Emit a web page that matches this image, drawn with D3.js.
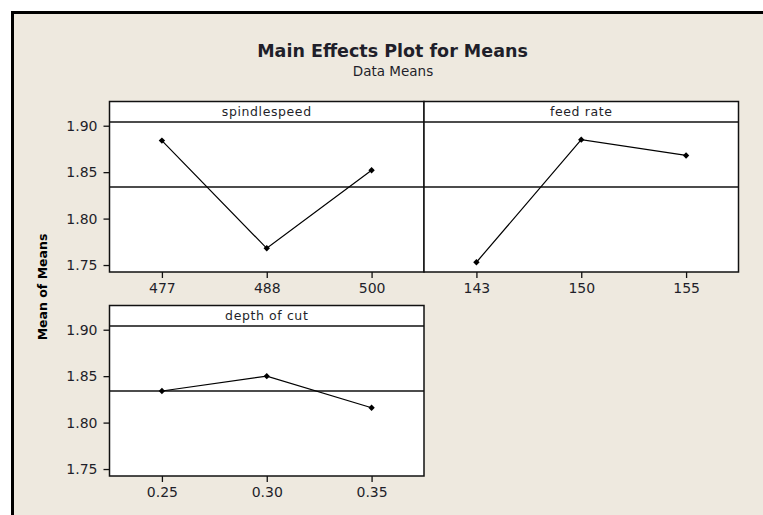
<!DOCTYPE html>
<html>
<head>
<meta charset="utf-8">
<script src="https://cdn.jsdelivr.net/npm/d3@7"></script>
<style>
  html, body { margin: 0; padding: 0; background: #ffffff; }
  svg { display: block; }
</style>
</head>
<body>
<svg id="chart" width="763" height="515"></svg>
<script>
// Factor levels and the response mean at each level
const spindleLevels = ["477", "488", "500"];
const spindleMeans  = [1.884, 1.768, 1.852];
const feedLevels    = ["143", "150", "155"];
const feedMeans     = [1.753, 1.885, 1.868];
const depthLevels   = ["0.25", "0.30", "0.35"];
const depthMeans    = [1.834, 1.850, 1.816];
const grandMean     = 1.834;
const yTickValues   = [1.75, 1.80, 1.85, 1.90];
const factorNames   = ["spindlespeed", "feed rate", "depth of cut"];

const panels = [
  { name: factorNames[0], levels: spindleLevels, means: spindleMeans, col: 0, row: 0 },
  { name: factorNames[1], levels: feedLevels,    means: feedMeans,    col: 1, row: 0 },
  { name: factorNames[2], levels: depthLevels,   means: depthMeans,   col: 0, row: 1 }
];

const svg = d3.select("#chart");
const W = 763, H = 515;
const bg = "#eee9df";
const ink = "#1f1f2a";
const font = "'DejaVu Sans', Verdana, sans-serif";

// Outer frame
svg.append("rect").attr("x", 12).attr("y", 12).attr("width", W).attr("height", H)
  .attr("fill", bg);
svg.append("line").attr("x1", 12.5).attr("x2", 12.5).attr("y1", 11).attr("y2", H)
  .attr("stroke", "#000").attr("stroke-width", 3);
svg.append("line").attr("x1", 11).attr("x2", W).attr("y1", 12.5).attr("y2", 12.5)
  .attr("stroke", "#000").attr("stroke-width", 3);

// Titles
svg.append("text").attr("x", 392.5).attr("y", 57).attr("text-anchor", "middle")
  .attr("font-family", font).attr("font-weight", "bold").attr("font-size", 17.5)
  .attr("fill", ink).text("Main Effects Plot for Means");
svg.append("text").attr("x", 393).attr("y", 76).attr("text-anchor", "middle")
  .attr("font-family", font).attr("font-size", 13.5)
  .attr("fill", ink).text("Data Means");

// Y axis title
svg.append("text")
  .attr("transform", "translate(47,287) rotate(-90)")
  .attr("text-anchor", "middle")
  .attr("font-family", font).attr("font-weight", "bold").attr("font-size", 12.5)
  .attr("fill", "#000").text("Mean of Means");

// Panel geometry
const colX = [109.5, 424];
const panelW = 314.5;
const rowTop = [101.5, 305.5];
const stripH = 20.5;
const plotH = 150;
const yDomain = [1.7425, 1.904];

panels.forEach(p => {
  const x0 = colX[p.col];
  const top = rowTop[p.row];
  const pTop = top + stripH;
  const pBot = pTop + plotH;

  const x = d3.scalePoint().domain(p.levels).range([x0, x0 + panelW]).padding(0.5);
  const y = d3.scaleLinear().domain(yDomain).range([pBot, pTop]);

  const g = svg.append("g");

  // Panel and strip
  g.append("rect").attr("x", x0).attr("y", top).attr("width", panelW).attr("height", stripH + plotH)
    .attr("fill", "#fff");
  g.append("text").attr("x", x0 + panelW / 2).attr("y", top + 14)
    .attr("text-anchor", "middle").attr("font-family", font).attr("font-size", 12.5)
    .attr("letter-spacing", 0.6).attr("fill", ink).text(p.name);
  g.append("line").attr("x1", x0).attr("x2", x0 + panelW).attr("y1", pTop).attr("y2", pTop)
    .attr("stroke", "#111").attr("stroke-width", 1.5);

  // Overall mean reference line
  g.append("line").attr("x1", x0).attr("x2", x0 + panelW)
    .attr("y1", y(grandMean)).attr("y2", y(grandMean))
    .attr("stroke", "#111").attr("stroke-width", 1.3);

  // Level means
  const pts = p.levels.map((l, i) => [x(l), y(p.means[i])]);
  g.append("path").attr("d", d3.line()(pts))
    .attr("fill", "none").attr("stroke", "#000").attr("stroke-width", 1.2);
  g.selectAll("path.pt").data(pts).join("path").attr("class", "pt")
    .attr("transform", d => `translate(${d[0]},${d[1]})`)
    .attr("d", d3.symbol(d3.symbolDiamond2, 26))
    .attr("fill", "#000");

  g.append("rect").attr("x", x0).attr("y", top).attr("width", panelW).attr("height", stripH + plotH)
    .attr("fill", "none").attr("stroke", "#111").attr("stroke-width", 1.5);

  // X axis
  const xa = g.append("g").attr("transform", `translate(0,${pBot})`)
    .call(d3.axisBottom(x).tickSize(6).tickPadding(5));
  xa.select(".domain").remove();
  xa.selectAll("line").attr("stroke", "#111").attr("stroke-width", 1.3);
  xa.selectAll("text").attr("font-family", font).attr("font-size", 14).attr("fill", ink);

  // Y axis on the left column
  if (p.col === 0) {
    const ya = g.append("g").attr("transform", `translate(${x0},0)`)
      .call(d3.axisLeft(y).tickValues(yTickValues).tickFormat(d3.format(".2f")).tickSize(6).tickPadding(6));
    ya.select(".domain").remove();
    ya.selectAll("line").attr("stroke", "#111").attr("stroke-width", 1.3);
    ya.selectAll("text").attr("font-family", font).attr("font-size", 14).attr("fill", ink);
  }
});
</script>
</body>
</html>
